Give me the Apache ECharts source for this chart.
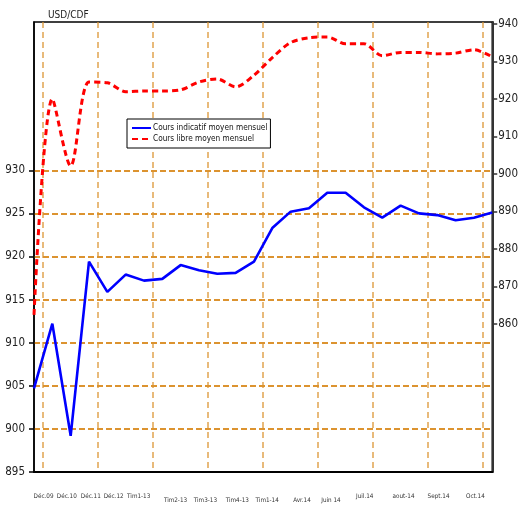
<!DOCTYPE html>
<html>
<head>
<meta charset="utf-8">
<script src="https://cdn.jsdelivr.net/npm/echarts@6/dist/echarts.min.js"></script>
<style>
  html, body { margin: 0; padding: 0; background: #fff; }
  #chart { width: 521px; height: 506px; }
</style>
</head>
<body>
<div id="chart"></div>
<script>
// Monthly points: Déc.09, Déc.10, Déc.11, Déc.12, then Jan.13 ... Oct.14
const months = ['Déc.09', 'Déc.10', 'Déc.11', 'Déc.12',
  'Jan.13', 'Fév.13', 'Mar.13', 'Avr.13', 'Mai.13', 'Juin.13', 'Juil.13', 'Aoû.13',
  'Sept.13', 'Oct.13', 'Nov.13', 'Déc.13', 'Jan.14', 'Fév.14', 'Mar.14', 'Avr.14',
  'Mai.14', 'Juin.14', 'Juil.14', 'Aoû.14', 'Sept.14', 'Oct.14'];

// Cours indicatif moyen mensuel (left axis)
const indicatif = [904.7, 912.2, 899.2, 919.4, 915.9, 917.9, 917.2, 917.4, 919.0, 918.4,
  918.0, 918.1, 919.4, 923.3, 925.2, 925.6, 927.4, 927.4, 925.7, 924.5,
  925.9, 925.0, 924.8, 924.2, 924.5, 925.1];

// Cours libre moyen mensuel (right axis)
const libre = [862.4, 920.0, 902.1, 924.5, 924.3, 921.9, 922.1, 922.1, 922.4, 924.5,
  925.3, 923.2, 926.3, 931.0, 935.0, 936.3, 936.5, 934.7, 934.7, 931.5,
  932.4, 932.4, 932.0, 932.2, 933.1, 931.2];

// axis ticks
const leftTicks = [895, 900, 905, 910, 915, 920, 925, 930];
const rightTicks = [860, 870, 880, 890, 900, 910, 920, 930, 940];
const gridX = [0.5, 3.5, 6.5, 9.5, 12.5, 15.5, 18.5, 21.5, 24.5];

// bottom labels (as printed in the source chart) and where they sit on the index scale
const xLabels = ['Déc.09', 'Déc.10', 'Déc.11', 'Déc.12', 'Tim1-13', 'Tim2-13', 'Tim3-13',
  'Tim4-13', 'Tim1-14', 'Avr.14', 'Juin 14', 'Juil.14', 'aout-14', 'Sept.14', 'Oct.14'];
const xLabelPos = [0.52, 1.79, 3.10, 4.35, 5.71, 7.72, 9.35, 11.09, 12.72, 14.62, 16.2,
  18.04, 20.16, 22.07, 24.08];
const xLabelLow = [5, 6, 7, 8, 9, 10]; // these sit a little lower

const FONT = "'DejaVu Sans Condensed', 'Liberation Sans', sans-serif";
const ORANGE = '#DC9330';

const toPairs = arr => arr.map((v, i) => [i, v]);

const chart = echarts.init(document.getElementById('chart'));

chart.setOption({
  animation: false,
  title: {
    text: 'USD/CDF',
    left: 43,
    top: 5,
    textStyle: { fontFamily: FONT, fontSize: 10, fontWeight: 'normal', color: '#222' }
  },
  grid: {
    left: 34, right: 27, top: 22, bottom: 34,
    show: true, borderColor: '#000', borderWidth: 1.5
  },
  legend: {
    orient: 'vertical',
    left: 127,
    top: 119,
    backgroundColor: '#fff',
    borderColor: '#000',
    borderWidth: 1,
    padding: [5, 3, 5, 4],
    itemGap: 3,
    itemWidth: 19,
    itemHeight: 8,
    itemStyle: { opacity: 0 },
    textStyle: { fontFamily: FONT, fontSize: 8.2, color: '#111', padding: [0, 0, 0, -3] },
    data: ['Cours indicatif moyen mensuel', 'Cours libre moyen mensuel']
  },
  xAxis: {
    type: 'value',
    min: 0,
    max: months.length - 1,
    axisLine: { show: true, lineStyle: { color: '#000', width: 2 } },
    axisTick: { show: false, customValues: gridX },
    splitLine: { show: true, lineStyle: { color: ORANGE, type: [6, 4], width: 1.5, opacity: 0.85 } },
    axisLabel: {
      customValues: xLabelPos,
      margin: 21,
      fontFamily: FONT,
      fontSize: 6.3,
      color: '#333',
      formatter: v => {
        const k = xLabelPos.findIndex(p => Math.abs(p - v) < 1e-6);
        if (k < 0) return '';
        return xLabelLow.includes(k) ? '{low|' + xLabels[k] + '}' : xLabels[k];
      },
      rich: { low: { fontFamily: FONT, fontSize: 6.3, color: '#333', padding: [4, 0, 0, 0] } }
    }
  },
  yAxis: [
    {
      type: 'value',
      position: 'left',
      min: 895,
      max: 947.2,
      axisLine: { show: true, lineStyle: { color: '#000', width: 1.5 } },
      axisTick: { show: true, length: 5, customValues: leftTicks, lineStyle: { color: '#000', width: 1.5 } },
      axisLabel: { customValues: leftTicks, margin: 9, fontFamily: FONT, fontSize: 11.5, color: '#222' },
      splitLine: { show: true, lineStyle: { color: ORANGE, type: [6, 3], width: 1.8 } }
    },
    {
      type: 'value',
      position: 'right',
      min: 820.5,
      max: 940.5,
      axisLine: { show: true, lineStyle: { color: '#333', width: 2 } },
      axisTick: { show: true, length: 5, customValues: rightTicks, lineStyle: { color: '#333', width: 1.5 } },
      axisLabel: { customValues: rightTicks, margin: 6, fontFamily: FONT, fontSize: 11.5, color: '#222' },
      splitLine: { show: false }
    }
  ],
  series: [
    {
      name: 'Cours indicatif moyen mensuel',
      type: 'line',
      yAxisIndex: 0,
      data: toPairs(indicatif),
      symbol: 'none',
      lineStyle: { color: '#0000FF', width: 2.6 },
      itemStyle: { color: '#0000FF' },
      z: 3
    },
    {
      name: 'Cours libre moyen mensuel',
      type: 'line',
      yAxisIndex: 1,
      data: toPairs(libre),
      symbol: 'none',
      smooth: 0.3,
      lineStyle: { color: '#FF0000', width: 3, type: [6, 4] },
      itemStyle: { color: '#FF0000' },
      z: 4
    }
  ]
});
</script>
</body>
</html>
